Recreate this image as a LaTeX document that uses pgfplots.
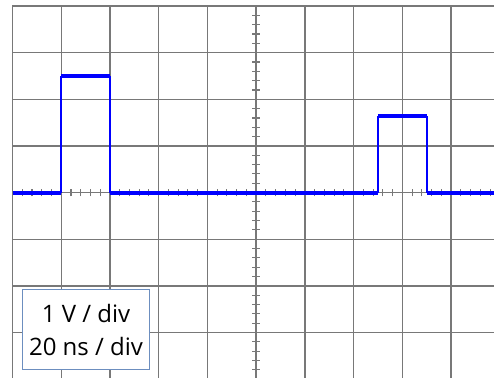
\documentclass[border=0pt]{standalone}
\usepackage{pgfplots}
\pgfplotsset{compat=1.18}
\usepackage{fontspec}
\setmainfont{Open Sans}
\definecolor{gridgray}{RGB}{120,120,120}
\definecolor{boxblue}{RGB}{108,142,191}
\definecolor{trace}{RGB}{0,0,255}
\begin{document}
\begin{tikzpicture}
\begin{axis}[
  name=ax,
  at={(0pt,0pt)}, anchor=south west,
  scale only axis, width=487.3pt, height=373.2pt,
  xmin=-5, xmax=5, ymin=-4, ymax=4,
  xtick={-5,...,5}, ytick={-4,...,4},
  xticklabels={}, yticklabels={},
  major tick length=0pt,
  grid=major,
  grid style={gridgray, line width=1.4pt},
  axis line style={gridgray, line width=1.4pt},
  clip=false,
]
\pgfplotsinvokeforeach{-4.8,-4.6,-4.4,-4.2,-3.8,-3.6,-3.4,-3.2,-2.8,-2.6,-2.4,-2.2,-1.8,-1.6,-1.4,-1.2,-0.8,-0.6,-0.4,-0.2,0.2,0.4,0.6,0.8,1.2,1.4,1.6,1.8,2.2,2.4,2.6,2.8,3.2,3.4,3.6,3.8,4.2,4.4,4.6,4.8}{
  \draw[gridgray,line width=1.1pt] (axis cs:#1,-0.08) -- (axis cs:#1,0.08);
}
\pgfplotsinvokeforeach{-3.8,-3.6,-3.4,-3.2,-2.8,-2.6,-2.4,-2.2,-1.8,-1.6,-1.4,-1.2,-0.8,-0.6,-0.4,-0.2,0.2,0.4,0.6,0.8,1.2,1.4,1.6,1.8,2.2,2.4,2.6,2.8,3.2,3.4,3.6,3.8}{
  \draw[gridgray,line width=1.1pt] (axis cs:-0.077,#1) -- (axis cs:0.077,#1);
}
% thick horizontal parts of the trace
\addplot[trace, line width=4pt, line cap=butt] coordinates {(-5,0) (-4,0)};
\addplot[trace, line width=4pt, line cap=butt] coordinates {(-4,2.5) (-3,2.5)};
\addplot[trace, line width=4pt, line cap=butt] coordinates {(-3,0) (2.5,0)};
\addplot[trace, line width=4pt, line cap=butt] coordinates {(2.5,1.65) (3.5,1.65)};
\addplot[trace, line width=4pt, line cap=butt] coordinates {(3.5,0) (5,0)};
% thin vertical edges
\addplot[trace, line width=2pt] coordinates {(-4,0) (-4,2.5)};
\addplot[trace, line width=2pt] coordinates {(-3,0) (-3,2.5)};
\addplot[trace, line width=2pt] coordinates {(2.5,0) (2.5,1.65)};
\addplot[trace, line width=2pt] coordinates {(3.5,0) (3.5,1.65)};
\node[draw=boxblue, line width=1pt, fill=white, anchor=south west,
      minimum width=127.6pt, minimum height=80pt, inner sep=0pt, align=center,
      font=\fontsize{24}{33}\selectfont] at (axis cs:-4.811,-3.803) {1 V / div\\20 ns / div};
\end{axis}
\pgfresetboundingbox
\path[use as bounding box] (-12.5pt,2.2pt) rectangle (481.5pt,379.2pt);
\end{tikzpicture}
\end{document}
